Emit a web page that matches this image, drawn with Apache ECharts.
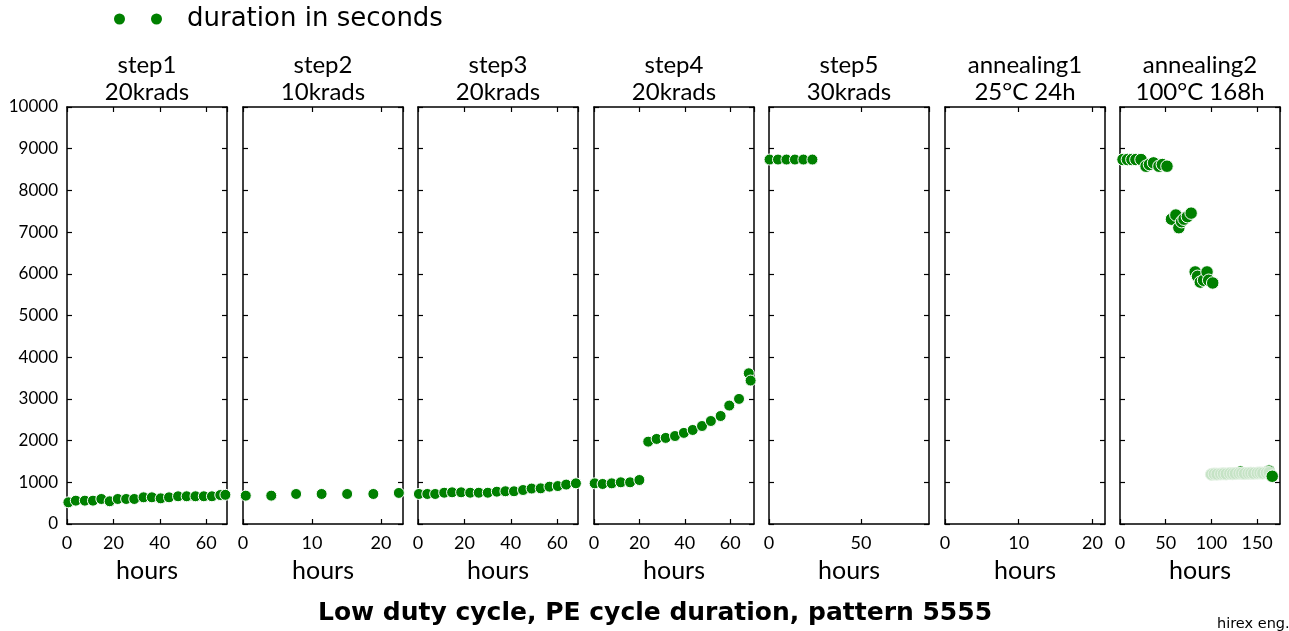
<!DOCTYPE html>
<html>
<head>
<meta charset="utf-8">
<script src="https://cdn.jsdelivr.net/npm/echarts@6/dist/echarts.min.js"></script>
<style>
html,body{margin:0;padding:0;background:#fff;}
#chart{width:1289px;height:631px;}
</style>
</head>
<body>
<div id="chart"></div>
<script>
// ---------- data ----------
const panelTitles = ['step1\n20krads', 'step2\n10krads', 'step3\n20krads', 'step4\n20krads', 'step5\n30krads', 'annealing1\n25°C 24h', 'annealing2\n100°C 168h'];
const xMax = [69, 23.2, 69, 70.5, 87, 21.7, 175];
const xInterval = [20, 10, 20, 20, 50, 10, 50];
const yMin = 0, yMax = 10000, yInterval = 1000;

const step1X = [0.6, 3.8, 7.7, 11.2, 14.8, 18.4, 21.9, 25.5, 29, 33, 36.6, 40.4, 44, 47.9, 51.6, 55.4, 59, 62.5, 66.1, 68.3];
const step1Y = [520, 560, 560, 560, 600, 545, 600, 600, 600, 640, 640, 615, 640, 665, 665, 665, 665, 665, 695, 700];

const step2X = [0.4, 4.1, 7.7, 11.4, 15.1, 18.9, 22.6];
const step2Y = [680, 680, 720, 720, 720, 720, 745];

const step3X = [0.4, 4.0, 7.4, 11.3, 14.7, 18.6, 22.5, 26.2, 30.1, 34, 37.7, 41.4, 45.3, 49, 52.9, 56.7, 60.3, 63.9, 68.1];
const step3Y = [720, 720, 720, 750, 760, 760, 750, 750, 750, 775, 785, 785, 815, 850, 855, 895, 910, 945, 975];

const step4X = [0.3, 3.8, 7.8, 11.8, 15.9, 20, 23.9, 27.6, 31.6, 35.7, 39.6, 43.5, 47.6, 51.5, 55.8, 59.6, 63.9, 68.2, 69];
const step4Y = [975, 960, 975, 1000, 1000, 1055, 1975, 2040, 2065, 2110, 2185, 2255, 2350, 2470, 2590, 2840, 3000, 3615, 3440];

const step5X = [0.3, 4.9, 9.5, 14.1, 18.7, 23.6];
const step5Y = [8740, 8740, 8740, 8740, 8740, 8740];

const anneal1X = [];
const anneal1Y = [];

const anneal2X = [3.3, 8.1, 13, 17.4, 23, 28.5, 32.2, 36.7, 42.6, 46.3, 51.4,
                  56.3, 61.1, 64.4, 67.4, 70, 73.7, 77.8,
                  82.2, 84.8, 87.8, 91.4, 95.2, 97, 101.4,
                  166.5];
const anneal2Y = [8740, 8740, 8740, 8740, 8740, 8580, 8620, 8660, 8580, 8620, 8580,
                  7310, 7410, 7105, 7250, 7310, 7370, 7455,
                  6045, 5940, 5800, 5845, 6045, 5845, 5780,
                  1145];
const anneal2BehindX = [132, 163];
const anneal2BehindY = [1255, 1275];
const anneal2LightX = [100, 103, 106, 110, 113, 116, 120, 123, 126, 130, 133, 136, 140, 143, 146, 150, 153, 156, 160, 163];
const anneal2LightY = [1190, 1200, 1195, 1200, 1205, 1200, 1210, 1205, 1210, 1215, 1220, 1210, 1215, 1220, 1215, 1220, 1225, 1220, 1230, 1235];

const panelData = [
  [step1X, step1Y], [step2X, step2Y], [step3X, step3Y], [step4X, step4Y],
  [step5X, step5Y], [anneal1X, anneal1Y], [anneal2X, anneal2Y]
];

// ---------- layout ----------
const gridLeft = [67, 243, 418, 594, 769, 945, 1120];
const gridWidth = 160;
const gridTop = 107, gridBottom = 107;
const GREEN = '#008000';
const SERIES_NAME = 'duration in seconds';
const labelFont = 'Lato, "Open Sans", sans-serif';

function zip(xs, ys) { return xs.map((x, i) => [x, ys[i]]); }

const grids = [], xAxes = [], yAxes = [], series = [], titles = [];
const lineStyle = { color: '#000', width: 1.5 };
const axisLine = { show: true, onZero: false, lineStyle: lineStyle };
const tickStyle = { show: true, inside: true, length: 5, lineStyle: { color: '#000', width: 1.2 } };

gridLeft.forEach((left, i) => {
  grids.push({ left: left, width: gridWidth, top: gridTop, bottom: gridBottom, containLabel: false });
  xAxes.push({
    type: 'value', gridIndex: i, position: 'bottom', min: 0, max: xMax[i], interval: xInterval[i],
    axisLine: axisLine, axisTick: tickStyle, splitLine: { show: false },
    axisLabel: { show: true, color: '#000', fontSize: 18, fontFamily: labelFont, margin: 10, showMaxLabel: false },
    name: 'hours', nameLocation: 'middle', nameGap: 34,
    nameTextStyle: { color: '#000', fontSize: 25, fontFamily: labelFont }
  });
  xAxes.push({
    type: 'value', gridIndex: i, position: 'top', min: 0, max: xMax[i], interval: xInterval[i],
    axisLine: axisLine, axisTick: tickStyle, splitLine: { show: false },
    axisLabel: { show: false }
  });
  yAxes.push({
    type: 'value', gridIndex: i, position: 'left', min: yMin, max: yMax, interval: yInterval,
    axisLine: axisLine, axisTick: tickStyle, splitLine: { show: false },
    axisLabel: { show: i === 0, color: '#000', fontSize: 17, fontFamily: labelFont, margin: 9,
                 formatter: v => String(v) }
  });
  yAxes.push({
    type: 'value', gridIndex: i, position: 'right', min: yMin, max: yMax, interval: yInterval,
    axisLine: axisLine, axisTick: tickStyle, splitLine: { show: false },
    axisLabel: { show: false }
  });
  titles.push({
    text: panelTitles[i], left: left + gridWidth / 2, top: 52, textAlign: 'center', padding: 0,
    textStyle: { color: '#000', fontSize: 24, fontWeight: 'normal', fontFamily: labelFont, lineHeight: 27 }
  });
});

const dotStyle = { color: GREEN, borderColor: '#fff', borderWidth: 1, opacity: 1 };

panelData.forEach((d, i) => {
  if (i === 6) {
    series.push({
      type: 'scatter', name: SERIES_NAME, xAxisIndex: 2 * i, yAxisIndex: 2 * i,
      data: zip(anneal2BehindX, anneal2BehindY), symbolSize: 12, itemStyle: dotStyle, silent: true
    });
    series.push({
      type: 'scatter', name: SERIES_NAME, xAxisIndex: 2 * i, yAxisIndex: 2 * i,
      data: zip(anneal2LightX, anneal2LightY), symbolSize: 12,
      itemStyle: { color: '#c5e3c5', borderColor: '#e4f2e4', borderWidth: 1, opacity: 1 }, silent: true
    });
  }
  series.push({
    type: 'scatter', name: SERIES_NAME, xAxisIndex: 2 * i, yAxisIndex: 2 * i,
    data: zip(d[0], d[1]), symbolSize: i === 6 ? 12.5 : 11, itemStyle: dotStyle
  });
});

titles.push({
  text: 'Low duty cycle, PE cycle duration, pattern 5555', left: 655, top: 601, textAlign: 'center', padding: 0,
  textStyle: { color: '#000', fontSize: 25, fontWeight: 'bold', fontFamily: '"DejaVu Sans", sans-serif' }
});
titles.push({
  text: 'hirex eng.', left: 1217, top: 617, padding: 0,
  textStyle: { color: '#000', fontSize: 14.5, fontWeight: 'normal', fontFamily: '"DejaVu Sans", sans-serif' }
});

const option = {
  animation: false,
  backgroundColor: '#fff',
  title: titles,
  legend: {
    data: [SERIES_NAME], left: 114, top: 6, padding: 0,
    icon: 'path://M0,5.5a5.5,5.5 0 1,0 11,0a5.5,5.5 0 1,0 -11,0ZM37,5.5a5.5,5.5 0 1,0 11,0a5.5,5.5 0 1,0 -11,0Z',
    itemWidth: 48, itemHeight: 11,
    itemStyle: { color: GREEN, borderWidth: 0, opacity: 1 },
    textStyle: { color: '#000', fontSize: 26, fontFamily: '"DejaVu Sans", sans-serif', padding: [0, 0, 0, 20] }
  },
  grid: grids,
  xAxis: xAxes,
  yAxis: yAxes,
  series: series
};

const chart = echarts.init(document.getElementById('chart'), null, { renderer: 'canvas' });
chart.setOption(option);
</script>
</body>
</html>
